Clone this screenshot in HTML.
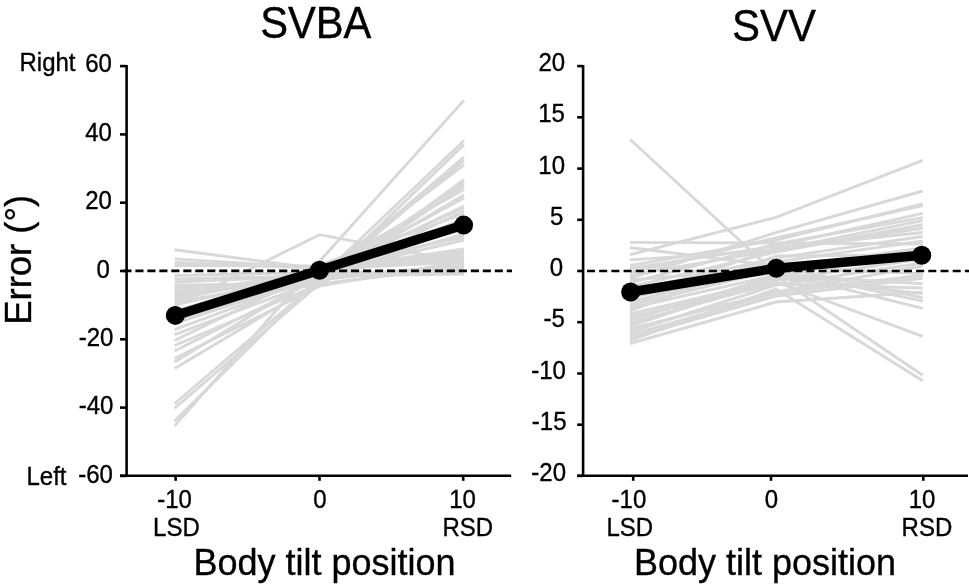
<!DOCTYPE html>
<html><head><meta charset="utf-8"><style>
html,body{margin:0;padding:0;background:#fff;overflow:hidden;}
svg{display:block;}
text{font-family:"Liberation Sans", sans-serif;fill:#000;stroke:#000;stroke-width:0.35px;}
svg{will-change:transform;}
</style></head><body>
<svg width="969" height="587" viewBox="0 0 969 587">
<g fill="none" stroke="#d8d8d8" stroke-width="2.9" stroke-linejoin="miter" stroke-linecap="butt">
<polyline points="174.6,249.7 319.5,269.0 464.0,262.0"/>
<polyline points="174.6,258.9 319.5,268.0 464.0,259.0"/>
<polyline points="174.6,262.5 319.5,268.0 464.0,256.5"/>
<polyline points="174.6,265.5 319.5,266.0 464.0,254.0"/>
<polyline points="174.6,275.5 319.5,272.5 464.0,272.0"/>
<polyline points="174.6,279.0 319.5,276.0 464.0,274.0"/>
<polyline points="174.6,282.0 319.5,276.0 464.0,269.0"/>
<polyline points="174.6,285.0 319.5,284.0 464.0,266.5"/>
<polyline points="174.6,287.5 319.5,280.0 464.0,264.0"/>
<polyline points="174.6,290.0 319.5,286.0 464.0,261.5"/>
<polyline points="174.6,292.5 319.5,274.0 464.0,251.5"/>
<polyline points="174.6,295.0 319.5,270.0 464.0,249.0"/>
<polyline points="174.6,297.5 319.5,274.0 464.0,240.0"/>
<polyline points="174.6,300.0 319.5,268.0 464.0,237.0"/>
<polyline points="174.6,302.5 319.5,276.0 464.0,234.0"/>
<polyline points="174.6,305.0 319.5,272.0 464.0,229.0"/>
<polyline points="174.6,311.0 319.5,270.0 464.0,224.0"/>
<polyline points="174.6,314.0 319.5,275.0 464.0,219.0"/>
<polyline points="174.6,317.0 319.5,265.0 464.0,214.0"/>
<polyline points="174.6,320.0 319.5,280.0 464.0,211.0"/>
<polyline points="174.6,323.0 319.5,272.0 464.0,208.0"/>
<polyline points="174.6,329.7 319.5,276.0 464.0,198.0"/>
<polyline points="174.6,334.6 319.5,280.0 464.0,195.0"/>
<polyline points="174.6,340.5 319.5,270.0 464.0,189.4"/>
<polyline points="174.6,345.5 319.5,284.0 464.0,185.8"/>
<polyline points="174.6,351.0 319.5,278.0 464.0,182.7"/>
<polyline points="174.6,358.5 319.5,286.0 464.0,179.7"/>
<polyline points="174.6,362.0 319.5,274.0 464.0,164.8"/>
<polyline points="174.6,368.6 319.5,282.0 464.0,160.7"/>
<polyline points="174.6,403.5 319.5,280.0 464.0,157.2"/>
<polyline points="174.6,408.2 319.5,284.0 464.0,144.6"/>
<polyline points="174.6,421.1 319.5,278.0 464.0,140.5"/>
<polyline points="174.6,425.9 319.5,261.5 464.0,100.2"/>
<polyline points="174.6,323.5 319.5,276.0 464.0,206.0"/>
<polyline points="174.6,306.5 319.5,234.7 464.0,262.5"/>
<polyline points="630.0,139.2 776.0,274.0 922.7,251.0"/>
<polyline points="630.0,242.4 776.0,243.0 922.7,244.0"/>
<polyline points="630.0,247.5 776.0,266.0 922.7,273.9"/>
<polyline points="630.0,254.7 776.0,217.4 922.7,160.4"/>
<polyline points="630.0,278.0 776.0,232.7 922.7,191.0"/>
<polyline points="630.0,265.5 776.0,240.0 922.7,204.0"/>
<polyline points="630.0,268.5 776.0,246.0 922.7,213.3"/>
<polyline points="630.0,272.5 776.0,238.0 922.7,205.5"/>
<polyline points="630.0,275.2 776.0,250.0 922.7,220.6"/>
<polyline points="630.0,259.9 776.0,250.0 922.7,228.2"/>
<polyline points="630.0,283.0 776.0,244.0 922.7,217.6"/>
<polyline points="630.0,287.0 776.0,252.0 922.7,224.8"/>
<polyline points="630.0,291.0 776.0,258.0 922.7,236.5"/>
<polyline points="630.0,295.0 776.0,262.0 922.7,241.0"/>
<polyline points="630.0,299.0 776.0,248.0 922.7,232.5"/>
<polyline points="630.0,302.0 776.0,266.0 922.7,297.8"/>
<polyline points="630.0,305.0 776.0,270.0 922.7,301.2"/>
<polyline points="630.0,308.0 776.0,275.0 922.7,283.7"/>
<polyline points="630.0,311.0 776.0,256.0 922.7,255.0"/>
<polyline points="630.0,314.0 776.0,280.0 922.7,259.0"/>
<polyline points="630.0,317.0 776.0,284.0 922.7,288.0"/>
<polyline points="630.0,320.0 776.0,276.0 922.7,375.3"/>
<polyline points="630.0,323.0 776.0,282.0 922.7,336.4"/>
<polyline points="630.0,326.0 776.0,278.0 922.7,293.5"/>
<polyline points="630.0,329.0 776.0,292.0 922.7,266.0"/>
<polyline points="630.0,332.0 776.0,285.0 922.7,263.0"/>
<polyline points="630.0,335.0 776.0,293.0 922.7,275.2"/>
<polyline points="630.0,338.0 776.0,296.0 922.7,278.2"/>
<polyline points="630.0,340.5 776.0,289.0 922.7,380.8"/>
<polyline points="630.0,343.5 776.0,302.0 922.7,292.3"/>
<polyline points="630.0,280.0 776.0,268.0 922.7,248.0"/>
<polyline points="630.0,297.0 776.0,272.0 922.7,308.4"/>
</g>
<g stroke="#000" stroke-width="2.6" fill="none">
<line x1="123.4" y1="270.9" x2="512" y2="270.9" stroke-dasharray="8.1 3.88"/>
<line x1="583" y1="271" x2="969" y2="271" stroke-dasharray="8 4.19" stroke-dashoffset="8.19"/>
</g>
<g stroke="#000" stroke-width="2.6" fill="none" stroke-linecap="butt">
<line x1="126.6" y1="64.9" x2="126.6" y2="477.1"/>
<line x1="120" y1="66.1" x2="126.6" y2="66.1"/>
<line x1="120" y1="134.4" x2="126.6" y2="134.4"/>
<line x1="120" y1="202.7" x2="126.6" y2="202.7"/>
<line x1="120" y1="271.0" x2="126.6" y2="271.0"/>
<line x1="120" y1="339.3" x2="126.6" y2="339.3"/>
<line x1="120" y1="407.6" x2="126.6" y2="407.6"/>
<line x1="120" y1="475.9" x2="126.6" y2="475.9"/>
<line x1="120" y1="475.8" x2="511.2" y2="475.8"/>
<line x1="175.6" y1="475" x2="175.6" y2="480.8"/>
<line x1="319.5" y1="475" x2="319.5" y2="480.8"/>
<line x1="463.2" y1="475" x2="463.2" y2="480.8"/>
<line x1="583.1" y1="64.9" x2="583.1" y2="477.1"/>
<line x1="577.2" y1="66.1" x2="583.1" y2="66.1"/>
<line x1="577.2" y1="117.3" x2="583.1" y2="117.3"/>
<line x1="577.2" y1="168.6" x2="583.1" y2="168.6"/>
<line x1="577.2" y1="219.8" x2="583.1" y2="219.8"/>
<line x1="577.2" y1="271.0" x2="583.1" y2="271.0"/>
<line x1="577.2" y1="322.2" x2="583.1" y2="322.2"/>
<line x1="577.2" y1="373.5" x2="583.1" y2="373.5"/>
<line x1="577.2" y1="424.7" x2="583.1" y2="424.7"/>
<line x1="577.2" y1="475.9" x2="583.1" y2="475.9"/>
<line x1="577.2" y1="475.8" x2="968" y2="475.8"/>
<line x1="633.2" y1="475" x2="633.2" y2="480.8"/>
<line x1="771.0" y1="475" x2="771.0" y2="480.8"/>
<line x1="923.3" y1="475" x2="923.3" y2="480.8"/>
</g>
<g stroke="#000" stroke-width="9.4" fill="none" stroke-linejoin="round">
<polyline points="175.3,315.4 319.5,270.2 463.6,225.1"/>
<polyline points="630.6,292.0 776.3,268.2 921.7,255.3"/>
</g><g fill="#000">
<circle cx="175.3" cy="315.4" r="9.5"/>
<circle cx="319.5" cy="270.2" r="9.5"/>
<circle cx="463.6" cy="225.1" r="9.5"/>
<circle cx="630.6" cy="292.0" r="9.5"/>
<circle cx="776.3" cy="268.2" r="9.5"/>
<circle cx="921.7" cy="255.3" r="9.5"/>
</g>
<text transform="translate(315.75,37.80) scale(0.993,1.040)" font-size="42" text-anchor="middle">SVBA</text>
<text transform="translate(773.90,40.90) scale(0.998,1.040)" font-size="42" text-anchor="middle">SVV</text>
<text transform="translate(111.94,72.10) scale(1.000,1.040)" font-size="24" text-anchor="end">60</text>
<text transform="translate(111.94,141.00) scale(1.000,1.040)" font-size="24" text-anchor="end">40</text>
<text transform="translate(111.84,208.80) scale(1.000,1.040)" font-size="24" text-anchor="end">20</text>
<text transform="translate(109.94,277.70) scale(1.000,1.040)" font-size="24" text-anchor="end">0</text>
<text transform="translate(113.34,345.70) scale(1.000,1.040)" font-size="24" text-anchor="end">-20</text>
<text transform="translate(113.34,413.70) scale(1.000,1.040)" font-size="24" text-anchor="end">-40</text>
<text transform="translate(112.84,482.80) scale(1.000,1.040)" font-size="24" text-anchor="end">-60</text>
<text transform="translate(565.14,71.00) scale(1.000,1.040)" font-size="24" text-anchor="end">20</text>
<text transform="translate(564.94,122.27) scale(1.000,1.040)" font-size="24" text-anchor="end">15</text>
<text transform="translate(565.04,173.54) scale(1.000,1.040)" font-size="24" text-anchor="end">10</text>
<text transform="translate(563.44,224.81) scale(1.000,1.040)" font-size="24" text-anchor="end">5</text>
<text transform="translate(563.04,276.08) scale(1.000,1.040)" font-size="24" text-anchor="end">0</text>
<text transform="translate(564.84,327.35) scale(1.000,1.040)" font-size="24" text-anchor="end">-5</text>
<text transform="translate(565.84,378.62) scale(1.000,1.040)" font-size="24" text-anchor="end">-10</text>
<text transform="translate(566.54,429.89) scale(1.000,1.040)" font-size="24" text-anchor="end">-15</text>
<text transform="translate(566.04,481.16) scale(1.000,1.040)" font-size="24" text-anchor="end">-20</text>
<text transform="translate(19.53,70.90) scale(1.000,1.040)" font-size="24" text-anchor="start">Right</text>
<text transform="translate(26.53,485.00) scale(1.000,1.040)" font-size="24" text-anchor="start">Left</text>
<text transform="translate(174.50,507.50) scale(1.000,1.040)" font-size="24" text-anchor="middle">-10</text>
<text transform="translate(320.00,507.50) scale(1.000,1.040)" font-size="24" text-anchor="middle">0</text>
<text transform="translate(462.60,507.50) scale(1.000,1.040)" font-size="24" text-anchor="middle">10</text>
<text transform="translate(628.90,507.50) scale(1.000,1.040)" font-size="24" text-anchor="middle">-10</text>
<text transform="translate(771.50,507.50) scale(1.000,1.040)" font-size="24" text-anchor="middle">0</text>
<text transform="translate(922.00,507.50) scale(1.000,1.040)" font-size="24" text-anchor="middle">10</text>
<text transform="translate(176.40,535.50) scale(1.000,1.040)" font-size="24" text-anchor="middle">LSD</text>
<text transform="translate(467.80,535.50) scale(1.000,1.040)" font-size="24" text-anchor="middle">RSD</text>
<text transform="translate(629.80,535.50) scale(1.000,1.040)" font-size="24" text-anchor="middle">LSD</text>
<text transform="translate(926.90,535.50) scale(1.000,1.040)" font-size="24" text-anchor="middle">RSD</text>
<text transform="translate(193.45,574.90) scale(1.000,1.040)" font-size="36" text-anchor="start">Body tilt position</text>
<text transform="translate(633.95,574.90) scale(1.000,1.040)" font-size="36" text-anchor="start">Body tilt position</text>
<text transform="translate(30.9,324.7) rotate(-90) scale(1.012,1.04)" font-size="36" text-anchor="start">Error (°)</text>
</svg></body></html>
